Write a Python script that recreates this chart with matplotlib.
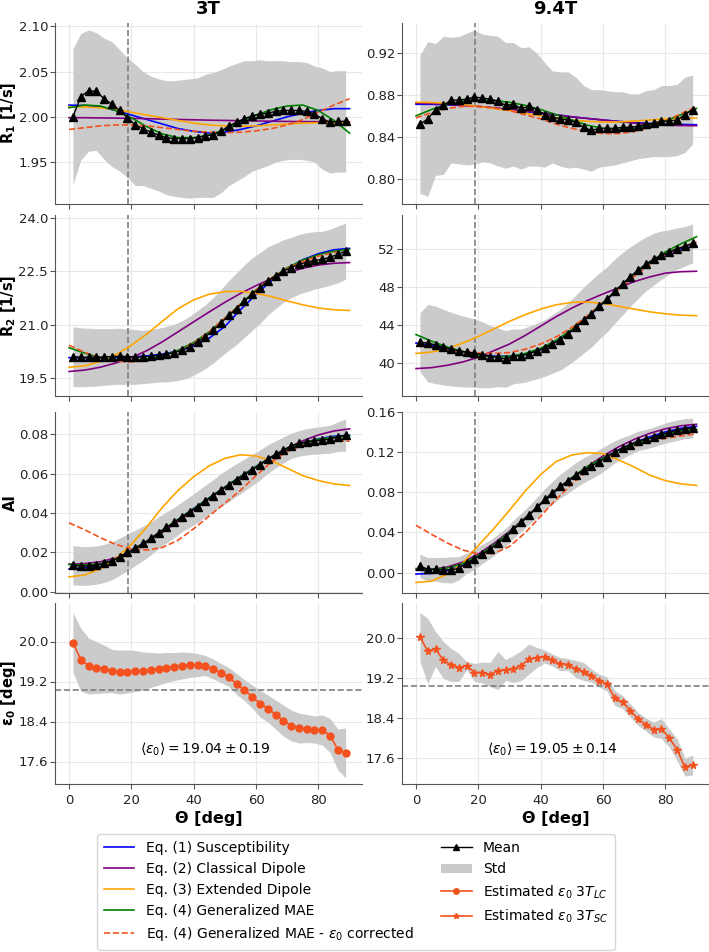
import numpy as np
import matplotlib
matplotlib.use("Agg")
import matplotlib.pyplot as plt
from matplotlib.lines import Line2D
from matplotlib.patches import Patch

# ===== Angles =====
theta = [1.25, 3.75, 6.25, 8.75, 11.25, 13.75, 16.25, 18.75, 21.25, 23.75, 26.25, 28.75,
         31.25, 33.75, 36.25, 38.75, 41.25, 43.75, 46.25, 48.75, 51.25, 53.75, 56.25, 58.75,
         61.25, 63.75, 66.25, 68.75, 71.25, 73.75, 76.25, 78.75, 81.25, 83.75, 86.25, 88.75]
theta_fit = [0, 5, 10, 15, 20, 25, 30, 35, 40, 45, 50, 55, 60, 65, 70, 75, 80, 85, 90]

# ===== R1 =====
r1_3t_mean = [2.000, 2.022, 2.029, 2.028, 2.020, 2.014, 2.007, 1.999, 1.991, 1.987, 1.983, 1.980,
              1.977, 1.976, 1.976, 1.976, 1.977, 1.979, 1.980, 1.984, 1.990, 1.994, 1.998, 2.001,
              2.003, 2.004, 2.006, 2.007, 2.007, 2.007, 2.006, 2.003, 1.998, 1.994, 1.995, 1.995]
r1_3t_std = [0.075, 0.070, 0.067, 0.065, 0.067, 0.069, 0.067, 0.066, 0.067, 0.063, 0.062, 0.062,
             0.063, 0.064, 0.065, 0.066, 0.066, 0.068, 0.069, 0.068, 0.066, 0.065, 0.064, 0.061,
             0.060, 0.058, 0.056, 0.055, 0.054, 0.054, 0.054, 0.053, 0.056, 0.056, 0.056, 0.056]
r1_3t_eq1 = [2.013, 2.0125, 2.011, 2.007, 2.002, 1.997, 1.992, 1.987, 1.984, 1.982, 1.983, 1.986,
             1.990, 1.995, 2.000, 2.004, 2.007, 2.009, 2.009]
r1_3t_eq2 = [1.999, 1.999, 1.9988, 1.9986, 1.9983, 1.998, 1.9975, 1.9971, 1.9967, 1.9963, 1.996,
             1.9957, 1.9954, 1.9951, 1.9949, 1.9947, 1.9946, 1.9945, 1.9945]
r1_3t_eq3 = [2.011, 2.011, 2.010, 2.008, 2.005, 2.002, 1.999, 1.996, 1.993, 1.991, 1.990, 1.9895,
             1.990, 1.991, 1.992, 1.993, 1.9935, 1.9938, 1.994]
r1_3t_eq4 = [2.010, 2.013, 2.012, 2.007, 1.999, 1.989, 1.981, 1.977, 1.977, 1.980, 1.986, 1.994,
             2.002, 2.008, 2.012, 2.013, 2.007, 1.996, 1.982]
r1_3t_eq4c = [1.986, 1.988, 1.990, 1.991, 1.991, 1.990, 1.988, 1.986, 1.984, 1.983, 1.9825, 1.983,
              1.9845, 1.987, 1.991, 1.997, 2.005, 2.013, 2.020]

r1_94_mean = [0.852, 0.857, 0.866, 0.870, 0.875, 0.875, 0.876, 0.878, 0.877, 0.876, 0.874, 0.870,
              0.871, 0.867, 0.869, 0.866, 0.861, 0.859, 0.857, 0.856, 0.854, 0.849, 0.846, 0.848,
              0.848, 0.848, 0.849, 0.849, 0.850, 0.852, 0.853, 0.855, 0.855, 0.856, 0.861, 0.866]
r1_94_std = [0.066, 0.074, 0.063, 0.066, 0.060, 0.061, 0.063, 0.064, 0.061, 0.061, 0.062, 0.060,
             0.059, 0.058, 0.057, 0.054, 0.050, 0.044, 0.045, 0.046, 0.043, 0.040, 0.039, 0.037,
             0.036, 0.035, 0.034, 0.032, 0.031, 0.032, 0.032, 0.034, 0.034, 0.034, 0.036, 0.033]
r1_94_eq1 = [0.871, 0.871, 0.8705, 0.870, 0.869, 0.8675, 0.866, 0.864, 0.8625, 0.861, 0.859, 0.8575,
             0.856, 0.8547, 0.8535, 0.8527, 0.852, 0.8517, 0.8515]
r1_94_eq2 = [0.872, 0.8717, 0.871, 0.870, 0.869, 0.8677, 0.866, 0.8645, 0.863, 0.861, 0.859, 0.8575,
             0.856, 0.8545, 0.853, 0.852, 0.851, 0.8507, 0.8505]
r1_94_eq3 = [0.873, 0.8727, 0.872, 0.8707, 0.869, 0.867, 0.865, 0.8625, 0.860, 0.858, 0.856, 0.8548,
             0.854, 0.8542, 0.855, 0.856, 0.857, 0.8577, 0.858]
r1_94_eq4 = [0.860, 0.866, 0.871, 0.874, 0.875, 0.8745, 0.873, 0.870, 0.866, 0.861, 0.856, 0.851,
             0.848, 0.847, 0.848, 0.851, 0.855, 0.861, 0.867]
r1_94_eq4c = [0.858, 0.863, 0.867, 0.869, 0.869, 0.8675, 0.865, 0.861, 0.857, 0.852, 0.848, 0.845,
              0.843, 0.843, 0.845, 0.849, 0.855, 0.862, 0.869]

# ===== R2 =====
r2_3t_mean = [20.10, 20.08, 20.08, 20.08, 20.09, 20.10, 20.11, 20.10, 20.09, 20.09, 20.11, 20.14,
              20.17, 20.21, 20.28, 20.38, 20.52, 20.66, 20.84, 21.05, 21.26, 21.45, 21.66, 21.86,
              22.03, 22.23, 22.37, 22.51, 22.61, 22.70, 22.76, 22.81, 22.84, 22.90, 22.98, 23.07]
r2_3t_std = [0.84, 0.83, 0.82, 0.81, 0.80, 0.79, 0.79, 0.78, 0.77, 0.75, 0.75, 0.76,
             0.78, 0.80, 0.83, 0.86, 0.88, 0.90, 0.92, 0.95, 0.98, 1.01, 1.02, 1.02,
             1.00, 0.96, 0.92, 0.88, 0.85, 0.84, 0.83, 0.81, 0.79, 0.79, 0.80, 0.79]
r2_3t_eq1 = [20.07, 20.07, 20.07, 20.08, 20.09, 20.12, 20.17, 20.26, 20.40, 20.62, 20.95, 21.42,
             21.85, 22.25, 22.58, 22.83, 23.00, 23.11, 23.15]
r2_3t_eq2 = [19.68, 19.72, 19.80, 19.92, 20.07, 20.27, 20.52, 20.80, 21.08, 21.36, 21.63, 21.88,
             22.10, 22.30, 22.46, 22.59, 22.68, 22.73, 22.75]
r2_3t_eq3 = [19.80, 19.84, 19.96, 20.15, 20.42, 20.74, 21.10, 21.45, 21.70, 21.86, 21.93, 21.94,
             21.88, 21.79, 21.67, 21.56, 21.47, 21.42, 21.40]
r2_3t_eq4 = [20.35, 20.20, 20.07, 20.00, 19.99, 20.03, 20.12, 20.28, 20.50, 20.80, 21.18, 21.58,
             21.98, 22.32, 22.60, 22.82, 22.97, 23.07, 23.12]
r2_3t_eq4c = [20.42, 20.22, 20.06, 19.97, 19.95, 19.98, 20.08, 20.25, 20.48, 20.80, 21.18, 21.58,
              21.97, 22.31, 22.58, 22.78, 22.93, 23.03, 23.08]

r2_94_mean = [42.19, 42.09, 41.91, 41.67, 41.46, 41.29, 41.15, 41.04, 40.87, 40.67, 40.60, 40.42,
              40.70, 40.74, 40.98, 41.26, 41.57, 42.02, 42.44, 43.06, 43.76, 44.52, 45.22, 46.01,
              46.71, 47.57, 48.38, 49.14, 49.83, 50.46, 50.98, 51.40, 51.74, 52.09, 52.33, 52.65]
r2_94_std = [3.1, 4.1, 4.1, 4.0, 3.9, 3.8, 3.7, 3.6, 3.5, 3.3, 3.1, 3.0,
             2.9, 2.85, 2.9, 2.95, 3.0, 3.1, 3.2, 3.3, 3.4, 3.5, 3.55, 3.5,
             3.45, 3.4, 3.3, 3.15, 3.0, 2.85, 2.75, 2.55, 2.35, 2.2, 2.1, 2.05]
r2_94_eq1 = [42.1, 41.85, 41.5, 41.15, 40.9, 40.72, 40.7, 40.9, 41.4, 42.25, 43.4, 44.8,
             46.3, 47.85, 49.3, 50.55, 51.5, 52.1, 52.35]
r2_94_eq2 = [39.4, 39.5, 39.75, 40.1, 40.6, 41.3, 42.0, 42.9, 43.9, 44.9, 45.8, 46.6,
             47.3, 47.95, 48.6, 49.1, 49.5, 49.65, 49.7]
r2_94_eq3 = [41.0, 41.15, 41.5, 42.1, 42.8, 43.6, 44.4, 45.1, 45.7, 46.15, 46.4, 46.45,
             46.3, 46.0, 45.7, 45.4, 45.2, 45.05, 45.0]
r2_94_eq4 = [43.0, 42.3, 41.7, 41.2, 40.85, 40.65, 40.7, 41.0, 41.55, 42.4, 43.55, 44.9,
             46.4, 47.9, 49.35, 50.65, 51.75, 52.6, 53.35]
r2_94_eq4c = [41.8, 41.6, 41.4, 41.2, 41.05, 41.0, 41.1, 41.45, 42.0, 42.75, 43.75, 45.0,
              46.4, 47.8, 49.15, 50.4, 51.45, 52.25, 52.8]

# ===== AI =====
ai_3t_mean = [0.0135, 0.0131, 0.0131, 0.0135, 0.0144, 0.0157, 0.0178, 0.0200, 0.0223, 0.0246, 0.0271, 0.0300,
              0.0327, 0.0352, 0.0381, 0.0406, 0.0432, 0.0461, 0.0488, 0.0517, 0.0542, 0.0568, 0.0593, 0.0619,
              0.0644, 0.0674, 0.0698, 0.0720, 0.0741, 0.0754, 0.0762, 0.0767, 0.0771, 0.0775, 0.0788, 0.0796]
ai_3t_std = [0.0100, 0.0099, 0.0098, 0.0097, 0.0097, 0.0096, 0.0095, 0.0093, 0.0090, 0.0087, 0.0083, 0.0081,
             0.0079, 0.0077, 0.0076, 0.0078, 0.0080, 0.0081, 0.0082, 0.0084, 0.0085, 0.0083, 0.0081, 0.0079,
             0.0076, 0.0073, 0.0069, 0.0066, 0.0064, 0.0065, 0.0067, 0.0068, 0.0069, 0.0071, 0.0075, 0.0082]
ai_3t_eq1 = [0.0115, 0.0122, 0.0138, 0.0165, 0.0205, 0.0255, 0.0310, 0.0367, 0.0423, 0.0478, 0.0532, 0.0585,
             0.0636, 0.0683, 0.0723, 0.0755, 0.0777, 0.0790, 0.0795]
ai_3t_eq2 = [0.0140, 0.0143, 0.0152, 0.0172, 0.0205, 0.0250, 0.0302, 0.0358, 0.0415, 0.0473, 0.0530, 0.0585,
             0.0637, 0.0686, 0.0730, 0.0767, 0.0797, 0.0817, 0.0828]
ai_3t_eq3 = [0.0075, 0.0085, 0.0115, 0.0170, 0.0240, 0.0330, 0.0430, 0.0515, 0.0585, 0.0640, 0.0678, 0.0696,
             0.0690, 0.0665, 0.0628, 0.0590, 0.0565, 0.0548, 0.0540]
ai_3t_eq4 = [0.0138, 0.0136, 0.0142, 0.0163, 0.0205, 0.0257, 0.0313, 0.0368, 0.0422, 0.0477, 0.0532, 0.0585,
             0.0636, 0.0685, 0.0727, 0.0757, 0.0775, 0.0785, 0.0792]
ai_3t_eq4c = [0.0350, 0.0315, 0.0275, 0.0240, 0.0218, 0.0212, 0.0225, 0.0262, 0.0320, 0.0385, 0.0450, 0.0515,
              0.0590, 0.0660, 0.0712, 0.0745, 0.0762, 0.0768, 0.0765]

ai_94_mean = [0.0066, 0.0033, 0.0033, 0.0026, 0.0026, 0.0043, 0.0093, 0.0136, 0.0185, 0.0231, 0.0291, 0.0350,
              0.0430, 0.0499, 0.0572, 0.0648, 0.0727, 0.0793, 0.0860, 0.0912, 0.0969, 0.1018, 0.1058, 0.1101,
              0.1150, 0.1200, 0.1240, 0.1273, 0.1309, 0.1326, 0.1349, 0.1375, 0.1398, 0.1415, 0.1431, 0.1438]
ai_94_std = [0.0116, 0.0116, 0.0118, 0.0125, 0.0130, 0.0115, 0.0100, 0.0105, 0.0095, 0.0091, 0.0091, 0.0091,
             0.0091, 0.0091, 0.0093, 0.0099, 0.0105, 0.0114, 0.0118, 0.0123, 0.0124, 0.0124, 0.0124, 0.0124,
             0.0118, 0.0110, 0.0104, 0.0099, 0.0097, 0.0096, 0.0098, 0.0099, 0.0101, 0.0102, 0.0100, 0.0099]
ai_94_eq1 = [-0.0015, -0.0008, 0.0020, 0.0075, 0.0160, 0.0270, 0.0395, 0.0535, 0.0680, 0.0815, 0.0940, 0.1050,
             0.1140, 0.1220, 0.1290, 0.1350, 0.1400, 0.1435, 0.1455]
ai_94_eq2 = [0.0025, 0.0032, 0.0055, 0.0105, 0.0185, 0.0290, 0.0410, 0.0545, 0.0680, 0.0815, 0.0940, 0.1055,
             0.1160, 0.1250, 0.1325, 0.1385, 0.1430, 0.1460, 0.1475]
ai_94_eq3 = [-0.0098, -0.0085, -0.0015, 0.0095, 0.0270, 0.0438, 0.0620, 0.0810, 0.0975, 0.1105, 0.1170, 0.1193,
             0.1183, 0.1120, 0.1050, 0.0969, 0.0915, 0.0882, 0.0867]
ai_94_eq4 = [0.0040, 0.0030, 0.0045, 0.0090, 0.0170, 0.0275, 0.0400, 0.0540, 0.0685, 0.0820, 0.0945, 0.1055,
             0.1140, 0.1215, 0.1280, 0.1335, 0.1380, 0.1410, 0.1425]
ai_94_eq4c = [0.0470, 0.0380, 0.0295, 0.0225, 0.0185, 0.0190, 0.0260, 0.0395, 0.0560, 0.0730, 0.0880, 0.1010,
              0.1115, 0.1195, 0.1255, 0.1300, 0.1335, 0.1360, 0.1380]

# ===== epsilon_0 =====
eps_3t = [19.98, 19.64, 19.51, 19.48, 19.45, 19.41, 19.39, 19.40, 19.41, 19.41, 19.43, 19.45,
          19.48, 19.50, 19.52, 19.53, 19.53, 19.52, 19.45, 19.37, 19.29, 19.15, 19.03, 18.90,
          18.76, 18.66, 18.54, 18.42, 18.32, 18.27, 18.26, 18.24, 18.23, 18.12, 17.84, 17.77]
eps_3t_std = [0.60, 0.63, 0.56, 0.52, 0.48, 0.43, 0.44, 0.43, 0.41, 0.38, 0.35, 0.32,
              0.30, 0.28, 0.27, 0.25, 0.23, 0.20, 0.20, 0.19, 0.19, 0.21, 0.21, 0.23,
              0.27, 0.27, 0.29, 0.31, 0.31, 0.30, 0.28, 0.27, 0.30, 0.34, 0.41, 0.50]
eps_94 = [20.02, 19.74, 19.78, 19.56, 19.46, 19.41, 19.45, 19.31, 19.31, 19.27, 19.35, 19.36,
          19.38, 19.45, 19.58, 19.61, 19.63, 19.56, 19.48, 19.47, 19.38, 19.33, 19.25, 19.15,
          19.08, 18.80, 18.72, 18.55, 18.38, 18.27, 18.17, 18.19, 18.00, 17.77, 17.42, 17.46]
eps_94_std = [0.49, 0.65, 0.35, 0.37, 0.33, 0.28, 0.08, 0.18, 0.21, 0.24, 0.38, 0.21,
              0.27, 0.30, 0.30, 0.20, 0.13, 0.12, 0.13, 0.12, 0.17, 0.18, 0.13, 0.13,
              0.14, 0.15, 0.13, 0.13, 0.13, 0.13, 0.15, 0.20, 0.18, 0.22, 0.18, 0.20]
eps_mean = [19.04, 19.05]
eps_sd = [0.19, 0.14]
magic_angle = 19.0

# ===== Labels =====
col_titles = ["3T", "9.4T"]
row_labels = ["R$_\\mathbf{1}$ [1/s]", "R$_\\mathbf{2}$ [1/s]", "AI", "ε$_\\mathbf{0}$ [deg]"]
fit_labels = ["Eq. (1) Susceptibility", "Eq. (2) Classical Dipole", "Eq. (3) Extended Dipole",
              "Eq. (4) Generalized MAE", r"Eq. (4) Generalized MAE - $\varepsilon_0$ corrected"]
fit_colors = ["blue", "purple", "orange", "green", "#f4511e"]
band_color = "#cbcbcb"
eps_color = "#f4511e"

panels = [
    [(r1_3t_mean, r1_3t_std, [r1_3t_eq1, r1_3t_eq2, r1_3t_eq3, r1_3t_eq4, r1_3t_eq4c]),
     (r1_94_mean, r1_94_std, [r1_94_eq1, r1_94_eq2, r1_94_eq3, r1_94_eq4, r1_94_eq4c])],
    [(r2_3t_mean, r2_3t_std, [r2_3t_eq1, r2_3t_eq2, r2_3t_eq3, r2_3t_eq4, r2_3t_eq4c]),
     (r2_94_mean, r2_94_std, [r2_94_eq1, r2_94_eq2, r2_94_eq3, r2_94_eq4, r2_94_eq4c])],
    [(ai_3t_mean, ai_3t_std, [ai_3t_eq1, ai_3t_eq2, ai_3t_eq3, ai_3t_eq4, ai_3t_eq4c]),
     (ai_94_mean, ai_94_std, [ai_94_eq1, ai_94_eq2, ai_94_eq3, ai_94_eq4, ai_94_eq4c])],
]
ylims = [[(1.904, 2.104), (0.776, 0.949)],
         [(18.99, 24.09), (36.5, 55.65)],
         [(-0.0005, 0.0915), (-0.02, 0.16)],
         [(17.15, 20.77), (17.08, 20.70)]]
yticks = [[[1.95, 2.00, 2.05, 2.10], [0.80, 0.84, 0.88, 0.92]],
          [[19.5, 21.0, 22.5, 24.0], [40, 44, 48, 52]],
          [[0.00, 0.02, 0.04, 0.06, 0.08], [0.00, 0.04, 0.08, 0.12, 0.16]],
          [[17.6, 18.4, 19.2, 20.0], [17.6, 18.4, 19.2, 20.0]]]

# ===== Figure =====
W, H = 709, 952
fig = plt.figure(figsize=(W / 100, H / 100), dpi=100)
col_left = [55, 402]
ax_w = 307
row_top = [22.7, 215, 411.7, 603]
ax_h = 181

th = np.array(theta)
for r in range(4):
    for c in range(2):
        ax = fig.add_axes([col_left[c] / W, 1 - (row_top[r] + ax_h) / H, ax_w / W, ax_h / H])
        ax.set_xlim(-4.5, 94.0)
        ax.set_ylim(*ylims[r][c])
        ax.set_yticks(yticks[r][c])
        ax.set_xticks([0, 20, 40, 60, 80])
        ax.grid(color="#e8e8e8", lw=0.8)
        ax.set_axisbelow(True)
        for s in ["top", "right"]:
            ax.spines[s].set_visible(False)
        for s in ["left", "bottom"]:
            ax.spines[s].set_color("#555555")
        ax.tick_params(colors="#555555", labelcolor="#222222", labelsize=9.5, length=3.5)
        ax.tick_params(axis="y", pad=1.5)

        if r < 3:
            mean, std, fits = panels[r][c]
            mean = np.array(mean)
            std = np.array(std)
            ax.fill_between(th, mean - std, mean + std, color=band_color, lw=0, zorder=1)
            for f, col in zip(fits, fit_colors):
                ls = "--" if col == fit_colors[-1] else "-"
                ax.plot(theta_fit, f, color=col, lw=1.2, ls=ls, zorder=3)
            ax.plot(th, mean, color="black", lw=1.0, marker="^", ms=6, zorder=4)
            ax.axvline(magic_angle, color="grey", ls="--", lw=1.2, zorder=2)
            ax.tick_params(labelbottom=False)
        else:
            e = np.array(eps_3t if c == 0 else eps_94)
            es = np.array(eps_3t_std if c == 0 else eps_94_std)
            ax.fill_between(th, e - es, e + es, color=band_color, lw=0, zorder=1)
            ax.plot(th, e, color=eps_color, lw=1.2, marker="o" if c == 0 else "*",
                    ms=5 if c == 0 else 5.5, zorder=4)
            ax.axhline(eps_mean[c], color="grey", ls="--", lw=1.2, zorder=2)
            ax.text(0.49, 0.19, r"$\langle\varepsilon_0\rangle = %.2f \pm %.2f$" % (eps_mean[c], eps_sd[c]),
                    transform=ax.transAxes, ha="center", va="center", fontsize=10)
            ax.set_xlabel("Θ [deg]", fontsize=11.5, fontweight="bold", labelpad=3)

        if r == 0:
            ax.set_title(col_titles[c], fontsize=13, fontweight="bold", pad=6)
        if c == 0:
            ax.set_ylabel(row_labels[r], fontsize=10.5, fontweight="bold")
            ax.yaxis.set_label_coords(-0.12, 0.5)

# ===== Legend =====
handles = [Line2D([], [], color=col, lw=1.2, ls="--" if i == 4 else "-") for i, col in enumerate(fit_colors)]
handles += [Line2D([], [], color="black", lw=1.0, marker="^", ms=4),
            Patch(facecolor=band_color, edgecolor="none"),
            Line2D([], [], color=eps_color, lw=1.2, marker="o", ms=4),
            Line2D([], [], color=eps_color, lw=1.2, marker="*", ms=4)]
labels = fit_labels + ["Mean", "Std", r"Estimated $\varepsilon_0$ $3T_{LC}$", r"Estimated $\varepsilon_0$ $3T_{SC}$"]
fig.legend(handles, labels, loc="lower center", bbox_to_anchor=(356 / W, 2 / H), ncol=2,
           fontsize=10, handlelength=2.2, labelspacing=0.5, columnspacing=2.0, borderpad=0.5,
           borderaxespad=0)

fig.savefig("out.png", dpi=100)
